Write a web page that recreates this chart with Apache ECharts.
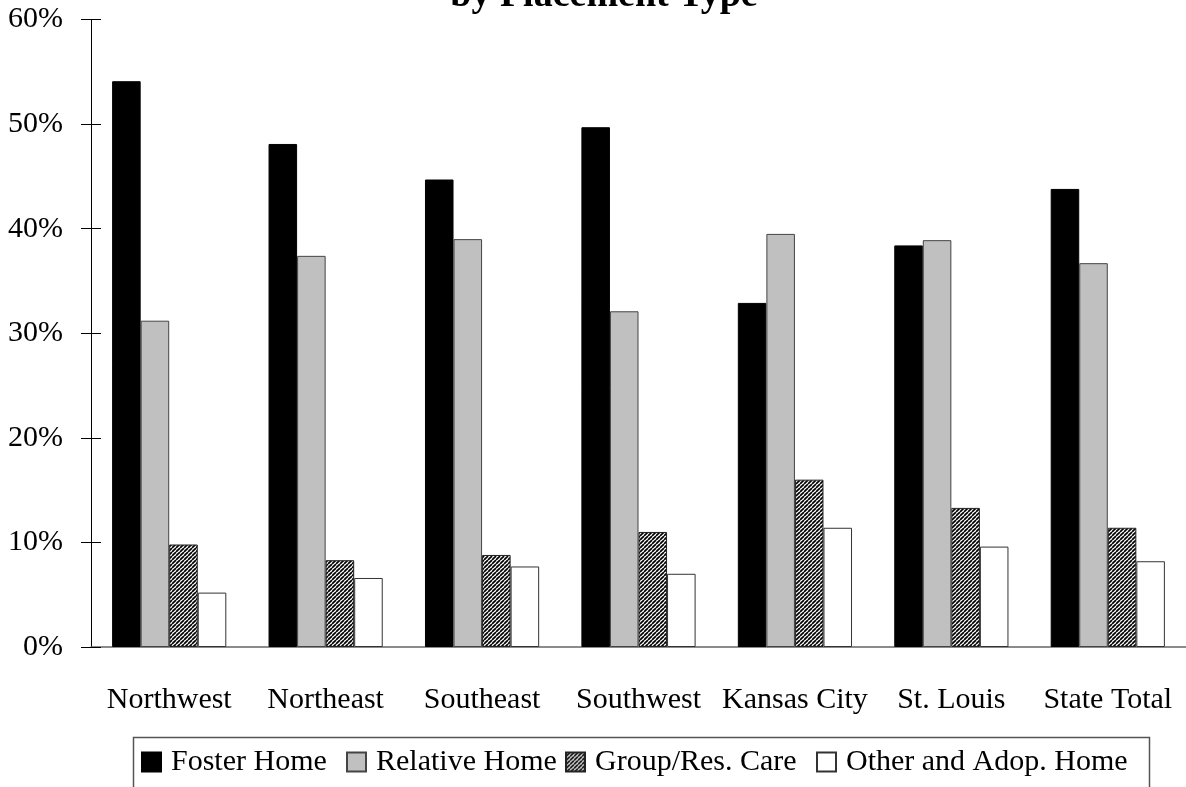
<!DOCTYPE html>
<html><head><meta charset="utf-8">
<script src="https://cdn.jsdelivr.net/npm/echarts@6/dist/echarts.min.js"></script>
<style>html,body{margin:0;padding:0;background:#fff}#c{width:1186px;height:787px}</style>
</head><body><div id="c"></div>
<script>
var categories = ['Northwest','Northeast','Southeast','Southwest','Kansas City','St. Louis','State Total'];
var fosterHome = [54.1, 48.1, 44.7, 49.7, 32.9, 38.4, 43.8];
var relativeHome = [31.2, 37.4, 39.0, 32.1, 39.5, 38.9, 36.7];
var groupResCare = [9.8, 8.3, 8.8, 11.0, 16.0, 13.3, 11.4];
var otherAdopHome = [5.2, 6.6, 7.7, 7.0, 11.4, 9.6, 8.2];
var seriesNames = ['Foster Home','Relative Home','Group/Res. Care','Other and Adop. Home'];
var yTicks = [0,10,20,30,40,50,60];

var pc = document.createElement('canvas');
pc.width = 4; pc.height = 4;
var g = pc.getContext('2d');
g.fillStyle = '#fff'; g.fillRect(0,0,4,4);
g.strokeStyle = '#000'; g.lineWidth = 1.7;
for (var k = -4; k <= 4; k += 4) { g.beginPath(); g.moveTo(k,4); g.lineTo(k+4,0); g.stroke(); }
var hatch = {image: pc, repeat: 'repeat'};

var font = 'Liberation Serif, Times New Roman, serif';
var legendLefts = [141, 346, 565, 816];
var legends = seriesNames.map(function (n, i) {
  return {data: [n], left: legendLefts[i], top: 747, padding: 0,
    icon: 'rect', itemWidth: 19, itemHeight: 19,
    textStyle: {fontFamily: font, fontSize: 30, color: '#000', padding: [0,0,0,5]}};
});
var chart = echarts.init(document.getElementById('c'));
chart.setOption({
  animation: false,
  title: {text: 'by Placement Type', left: 599, textAlign: 'center', top: -28,
    textStyle: {fontFamily: font, fontSize: 38, fontWeight: 'bold', color: '#000'}},
  grid: [{left: 91, right: 0, top: 19.5, bottom: 140, containLabel: false},
         {left: 91, width: 10, top: 19.5, bottom: 140, containLabel: false}],
  legend: legends,
  graphic: [{type: 'rect', left: 131, top: 735, shape: {width: 1016, height: 70},
    style: {fill: 'none', stroke: '#555', lineWidth: 1.5}, silent: true}],
  xAxis: [{type: 'category', data: categories, gridIndex: 0,
    axisLine: {lineStyle: {color: '#666', width: 1.5}},
    axisTick: {show: false},
    axisLabel: {fontFamily: font, fontSize: 30, color: '#000', margin: 38, interval: 0}},
    {type: 'value', gridIndex: 1, show: false, min: 0, max: 1}],
  yAxis: [{type: 'value', min: 0, max: 60, interval: 10, gridIndex: 0,
    axisLine: {show: true, lineStyle: {color: '#000', width: 1}},
    axisTick: {show: true, inside: false, length: 10, lineStyle: {color: '#000'}},
    splitLine: {show: false},
    axisLabel: {fontFamily: font, fontSize: 30, color: '#000', margin: 28,
      formatter: function (v) { return yTicks.indexOf(v) >= 0 ? v + '%' : ''; }}},
    {type: 'value', min: 0, max: 60, interval: 10, gridIndex: 1, position: 'left',
    axisLine: {show: true, lineStyle: {color: '#000', width: 1}},
    axisTick: {show: true, inside: true, length: 10, lineStyle: {color: '#000'}},
    splitLine: {show: false}, axisLabel: {show: false}}],
  series: [
    {name: seriesNames[0], type: 'bar', data: fosterHome, barGap: '0%', barCategoryGap: '27%',
      itemStyle: {color: '#000', borderColor: '#000', borderWidth: 1}},
    {name: seriesNames[1], type: 'bar', data: relativeHome,
      itemStyle: {color: '#c0c0c0', borderColor: '#444', borderWidth: 1}},
    {name: seriesNames[2], type: 'bar', data: groupResCare,
      itemStyle: {color: hatch, borderColor: '#222', borderWidth: 1}},
    {name: seriesNames[3], type: 'bar', data: otherAdopHome,
      itemStyle: {color: '#fff', borderColor: '#333', borderWidth: 1}},
    {name: 'ticks', type: 'line', xAxisIndex: 1, yAxisIndex: 1, data: [], silent: true}
  ]
});
</script></body></html>
